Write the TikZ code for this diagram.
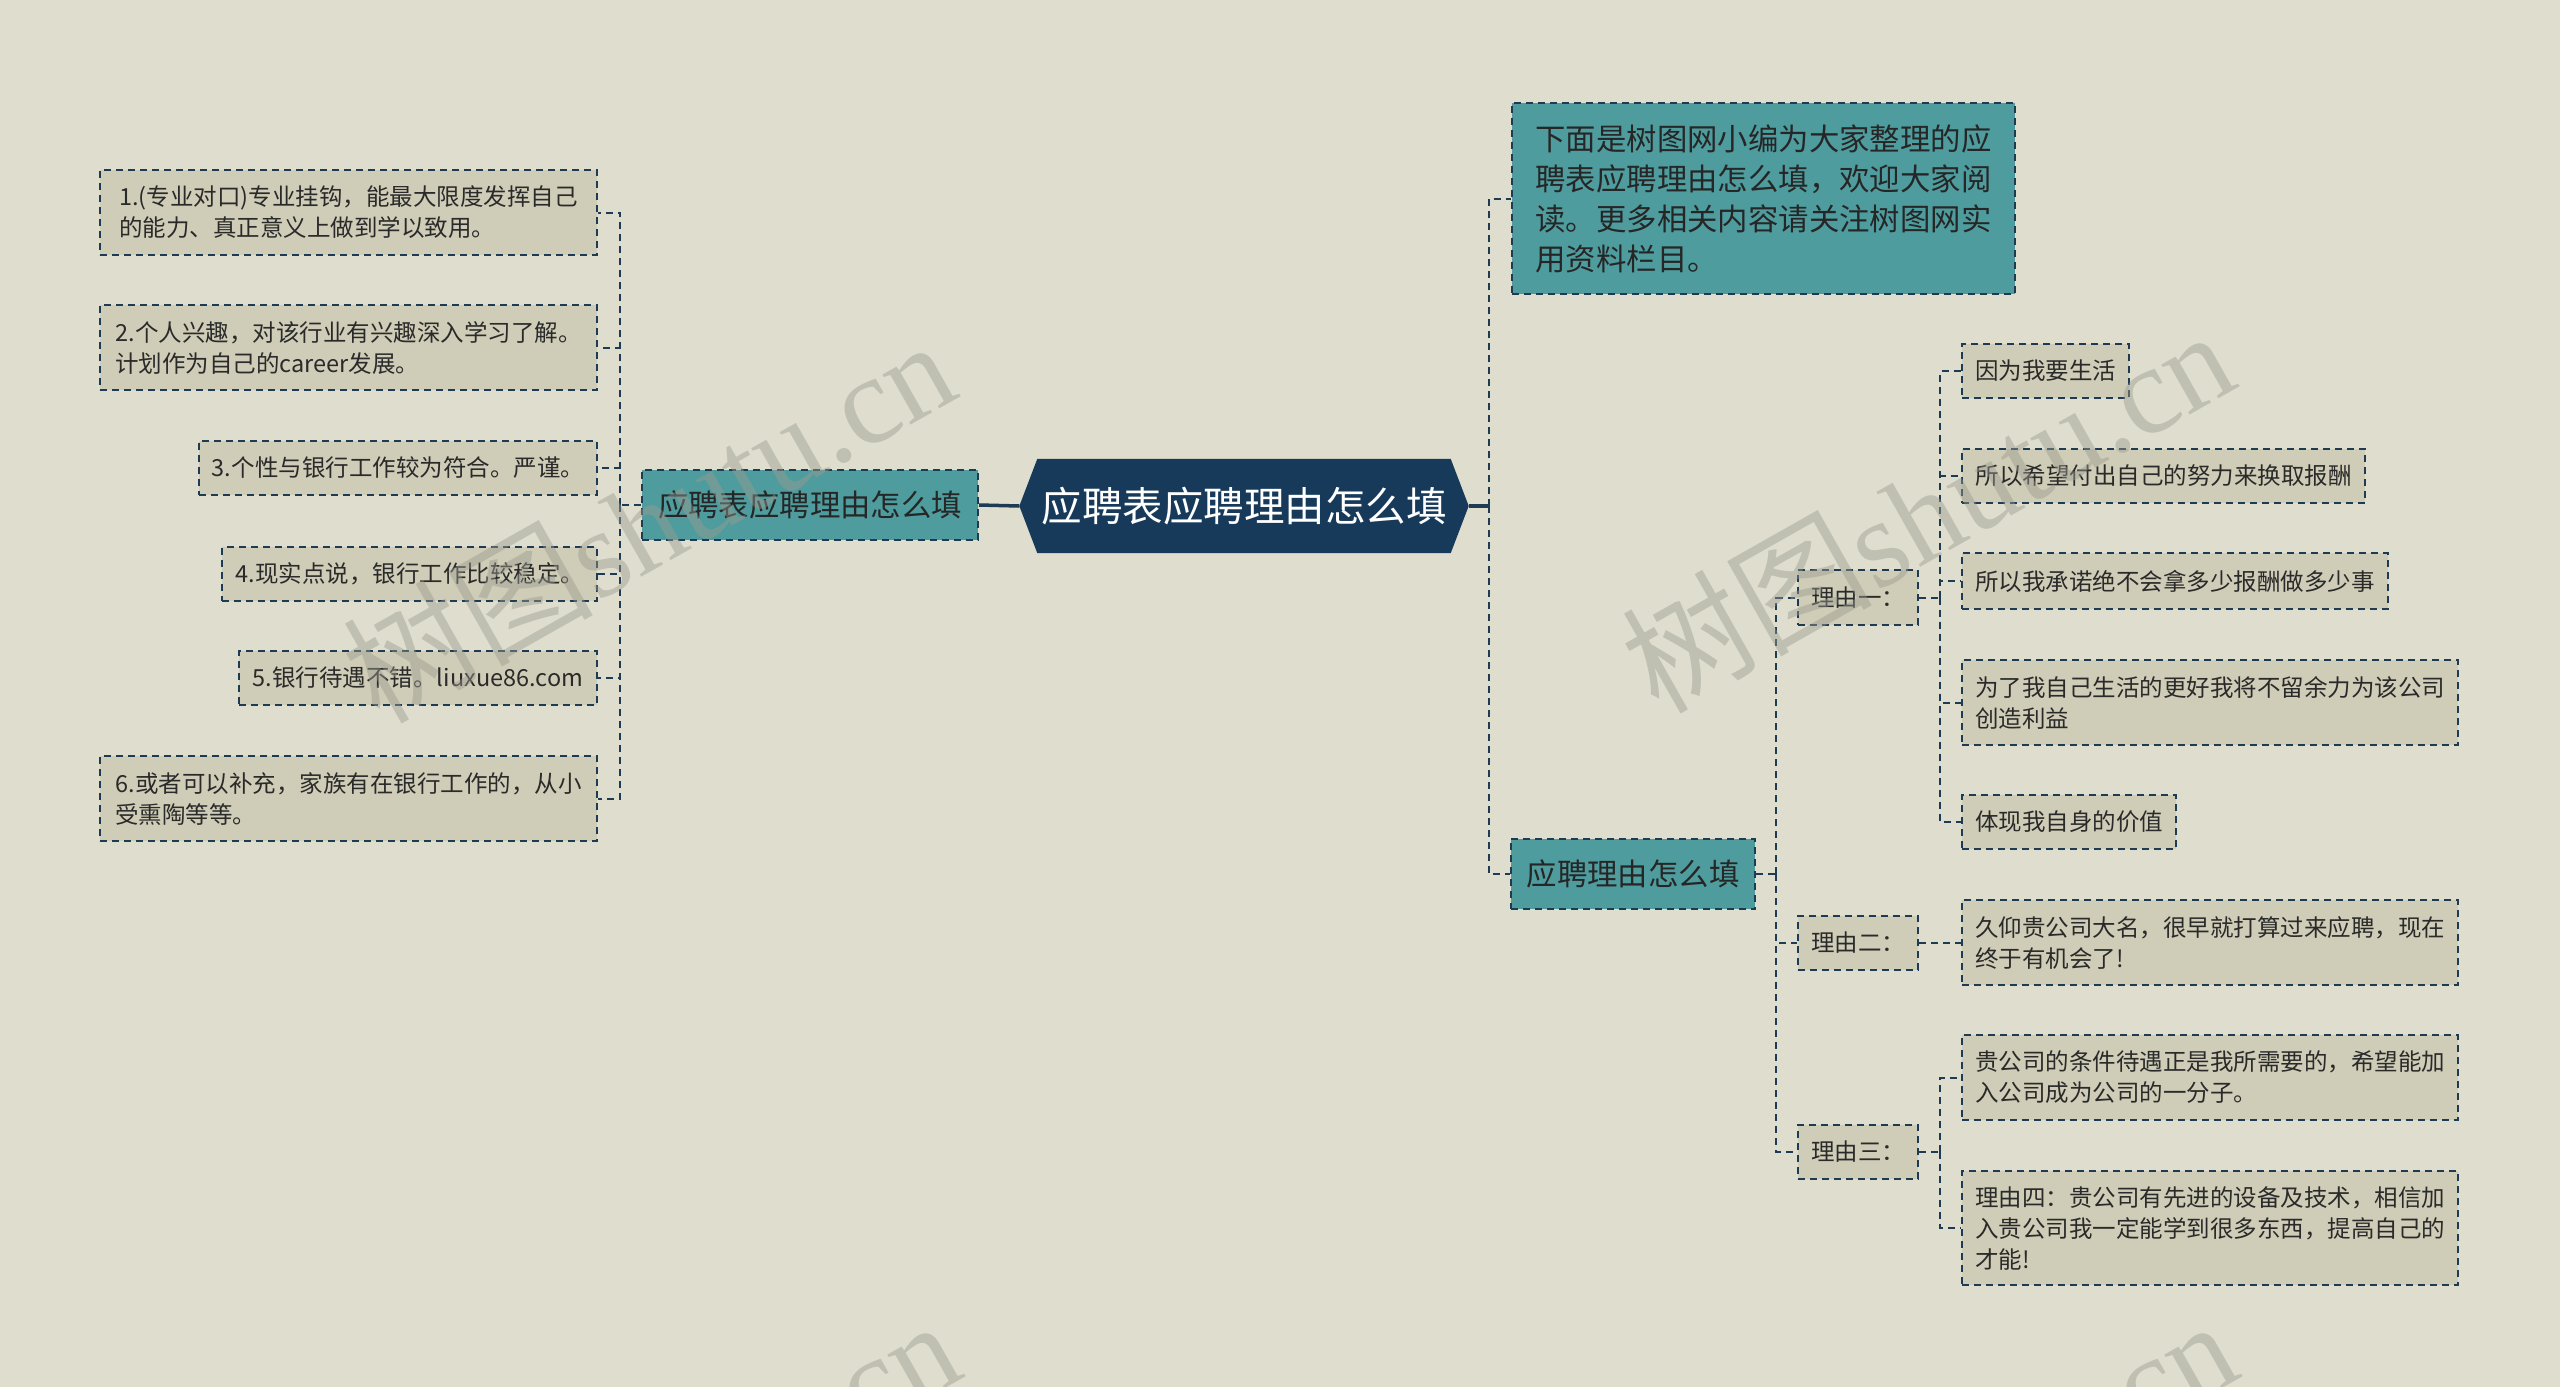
\documentclass[tikz,border=0pt]{standalone}
\usepackage{fontspec}
\setmainfont{Noto Sans CJK SC}
\newfontfamily\wmserif{Liberation Serif}
\usetikzlibrary{backgrounds}
\definecolor{bgc}{HTML}{DFDECE}
\definecolor{leafc}{HTML}{CFCDB7}
\definecolor{tealc}{HTML}{4E9C9E}
\definecolor{rootc}{HTML}{173A5A}
\definecolor{navy}{HTML}{1D3B52}
\definecolor{txt}{HTML}{2A2A2A}
\definecolor{wmc}{HTML}{9A9A90}
\newcommand\fLeaf{\fontsize{23.5pt}{31pt}\selectfont}
\newcommand\fMain{\fontsize{30.4pt}{40pt}\selectfont}
\newcommand\fRoot{\fontsize{40.5pt}{48pt}\selectfont}
\newcommand\fWm{\fontsize{125pt}{130pt}\selectfont}
\tikzset{
  conn/.style={draw=navy, line width=2pt, dash pattern=on 7pt off 5pt},
  rootconn/.style={draw=navy, line width=3.5pt},
  leaf/.style={draw=navy, fill=leafc, line width=2pt, dash pattern=on 7pt off 5pt,
    inner xsep=13pt, inner ysep=0pt, align=left, text=txt, font=\fLeaf},
  mainbox/.style={leaf, fill=tealc, text=black!85, font=\fMain, inner xsep=16pt},
  wm/.style={text=wmc, opacity=0.45, rotate=29.5, font=\fWm}
}
\begin{document}
\begin{tikzpicture}[x=1pt,y=-1pt]
\begin{scope}[on background layer]
\fill[bgc] (0,0) rectangle (2560,1387);
\end{scope}
\useasboundingbox (0,0) rectangle (2560,1387);

% root
\node[minimum width=413pt, minimum height=94pt, inner sep=0pt, text=white, font=\fRoot] (root) at (1244,506) {应聘表应聘理由怎么填};
\coordinate (rootL) at ([xshift=-18pt]root.west);
\coordinate (rootR) at ([xshift=18pt]root.east);
\begin{scope}[on background layer]
\fill[rootc] (rootL) -- (root.north west) -- (root.north east) -- (rootR) -- (root.south east) -- (root.south west) -- cycle;
\end{scope}

% main nodes
\node[mainbox, minimum width=336pt, minimum height=70pt] (lm) at (810,505) {应聘表应聘理由怎么填};
\node[mainbox, minimum width=503pt, minimum height=191pt] (rm1) at (1763.5,198.5) {下面是树图网小编为大家整理的应\\聘表应聘理由怎么填，欢迎大家阅\\读。更多相关内容请关注树图网实\\用资料栏目。};
\node[mainbox, minimum width=242pt, minimum height=70pt] (rm2) at (1633,874) {应聘理由怎么填};

% left leaves
\node[leaf, anchor=east, minimum width=497pt, minimum height=85pt] (L1) at (598,212.5) {1.(专业对口)专业挂钩，能最大限度发挥自己\\的能力、真正意义上做到学以致用。};
\node[leaf, anchor=east, minimum width=497pt, minimum height=85pt] (L2) at (598,347.5) {2.个人兴趣，对该行业有兴趣深入学习了解。\\计划作为自己的career发展。};
\node[leaf, anchor=east, minimum width=397pt, minimum height=54pt] (L3) at (598,468) {3.个性与银行工作较为符合。严谨。};
\node[leaf, anchor=east, minimum width=374pt, minimum height=54pt] (L4) at (598,574) {4.现实点说，银行工作比较稳定。};
\node[leaf, anchor=east, minimum width=358pt, minimum height=54pt] (L5) at (598,678) {5.银行待遇不错。liuxue86.com};
\node[leaf, anchor=east, minimum width=497pt, minimum height=85pt] (L6) at (598,798.5) {6.或者可以补充，家族有在银行工作的，从小\\受熏陶等等。};

% reasons
\node[leaf, minimum width=120pt, minimum height=55pt] (y1) at (1858,597.5) {理由一：};
\node[leaf, minimum width=120pt, minimum height=54pt] (y2) at (1858,943) {理由二：};
\node[leaf, minimum width=120pt, minimum height=54pt] (y3) at (1858,1152) {理由三：};

% right leaves
\node[leaf, anchor=west, minimum width=166pt, minimum height=54pt] (R1) at (1961,371) {因为我要生活};
\node[leaf, anchor=west, minimum width=403pt, minimum height=54pt] (R2) at (1961,476) {所以希望付出自己的努力来换取报酬};
\node[leaf, anchor=west, minimum width=426pt, minimum height=56pt] (R3) at (1961,581) {所以我承诺绝不会拿多少报酬做多少事};
\node[leaf, anchor=west, minimum width=496pt, minimum height=85pt] (R4) at (1961,702.5) {为了我自己生活的更好我将不留余力为该公司\\创造利益};
\node[leaf, anchor=west, minimum width=212pt, minimum height=54pt] (R5) at (1961,822) {体现我自身的价值};
\node[leaf, anchor=west, minimum width=496pt, minimum height=85pt] (R6) at (1961,942.5) {久仰贵公司大名，很早就打算过来应聘，现在\\终于有机会了!};
\node[leaf, anchor=west, minimum width=496pt, minimum height=85pt] (R7) at (1961,1077.5) {贵公司的条件待遇正是我所需要的，希望能加\\入公司成为公司的一分子。};
\node[leaf, anchor=west, minimum width=496pt, minimum height=114pt] (R8) at (1961,1228) {理由四：贵公司有先进的设备及技术，相信加\\入贵公司我一定能学到很多东西，提高自己的\\才能!};

% connectors: root
\draw[rootconn] (rootL) -- (lm.east);
\coordinate (rt) at (1489,506);
\draw[rootconn] (rootR) -- (rt);
\draw[conn] (rt) |- (rm1.west);
\draw[conn] (rt) |- (rm2.west);

% left tree
\coordinate (lt) at (620,505);
\draw[conn] (lm.west) -- (lt);
\foreach \n in {L1,L2,L3,L4,L5,L6} { \draw[conn] (lt) |- (\n.east); }

% right tree
\coordinate (t2) at (1776,874);
\draw[conn] (rm2.east) -- (t2);
\foreach \n in {y1,y2,y3} { \draw[conn] (t2) |- (\n.west); }
\coordinate (t3) at (1940,597.5);
\draw[conn] (y1.east) -- (t3);
\foreach \n in {R1,R2,R3,R4,R5} { \draw[conn] (t3) |- (\n.west); }
\draw[conn] (y2.east) -- (R6.west |- y2.east);
\coordinate (t5) at (1940,1152);
\draw[conn] (y3.east) -- (t5);
\foreach \n in {R7,R8} { \draw[conn] (t5) |- (\n.west); }

% watermarks
\begin{scope}
\clip (0,0) rectangle (2560,1387);
\node[wm] (wm1) at (648,519) {树图{\wmserif shutu.cn}};
\node[wm] (wm2) at (1927,509) {树图{\wmserif shutu.cn}};
\node[wm] (wm3) at (653,1499) {树图{\wmserif shutu.cn}};
\node[wm] (wm4) at (1930,1499) {树图{\wmserif shutu.cn}};
\end{scope}
\end{tikzpicture}
\end{document}
